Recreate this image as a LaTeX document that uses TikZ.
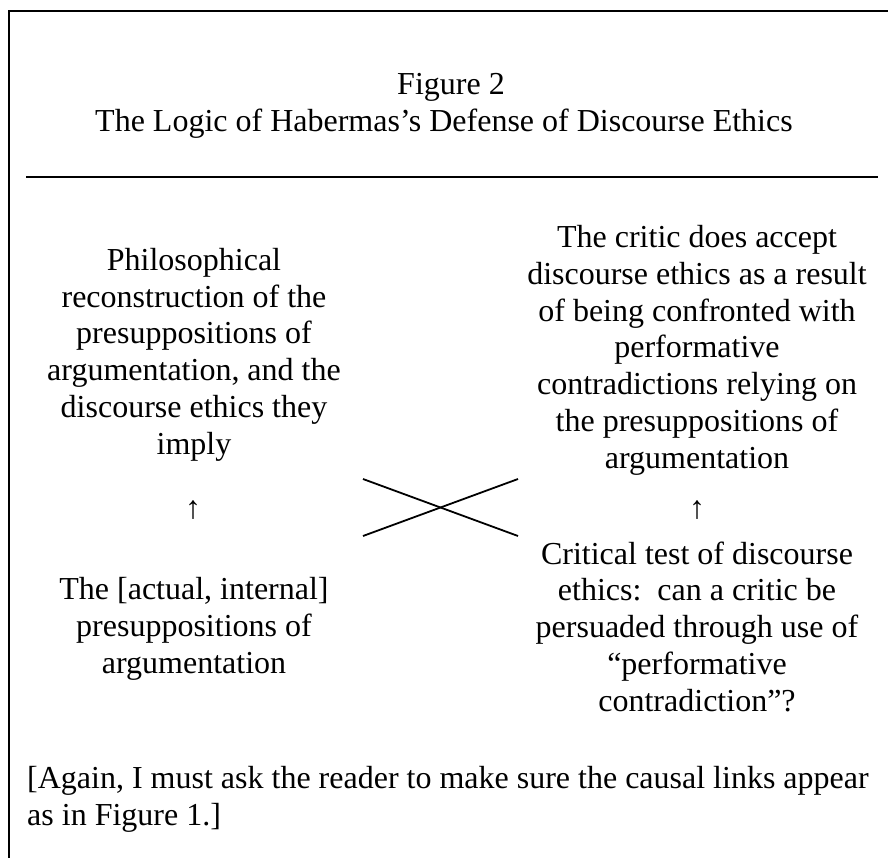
\documentclass[tikz,border=0pt]{standalone}
\usepackage{fontspec}
\setmainfont{Liberation Serif}
\begin{document}
\begin{tikzpicture}[x=1pt,y=-1pt,
  txt/.style={font=\fontsize{32}{36.7}\selectfont, inner sep=0pt, align=center},
  frame/.style={line width=2pt},
  cross/.style={line width=1.8pt}]
\useasboundingbox (0,0) rectangle (888,858);
\fill[white] (0,0) rectangle (888,858);
% frame (only left and top edges are visible)
\coordinate (fbl) at (9,858);
\coordinate (ftl) at (9,11);
\coordinate (ftr) at (888,11);
\draw[frame] (fbl) -- (ftl) -- (ftr);
% title (anchor=base = baseline of the last line)
\node[txt, anchor=base] (fig) at (451,95) {Figure 2};
\node[txt, anchor=base] (title) at (444,132) {The Logic of Habermas’s Defense of Discourse Ethics};
\coordinate (rl) at (26,177);
\coordinate (rr) at (878,177);
\draw[frame] (rl) -- (rr);
% left column
\node[txt, anchor=base] (lt) at (194,454) {Philosophical\\reconstruction of the\\presuppositions of\\argumentation, and the\\discourse ethics they\\imply};
\node[txt] (la) at (193,510) {↑};
\node[txt, anchor=base] (lb) at (194,673) {The [actual, internal]\\presuppositions of\\argumentation};
% right column
\node[txt, anchor=base] (rt) at (697,468) {The critic does accept\\discourse ethics as a result\\of being confronted with\\performative\\contradictions relying on\\the presuppositions of\\argumentation};
\node[txt] (ra) at (697,510) {↑};
\node[txt, anchor=base] (rb) at (697,711) {Critical test of discourse\\ethics:\ \ can a critic be\\persuaded through use of\\“performative\\contradiction”?};
% cross
\coordinate (c1) at (363,479);
\coordinate (c2) at (518,536);
\coordinate (c3) at (363,536);
\coordinate (c4) at (518,479);
\draw[cross] (c1) -- (c2);
\draw[cross] (c3) -- (c4);
% note
\node[txt, anchor=base west, align=left] (note) at (27,825) {[Again, I must ask the reader to make sure the causal links appear\\as in Figure 1.]};
\end{tikzpicture}
\end{document}
